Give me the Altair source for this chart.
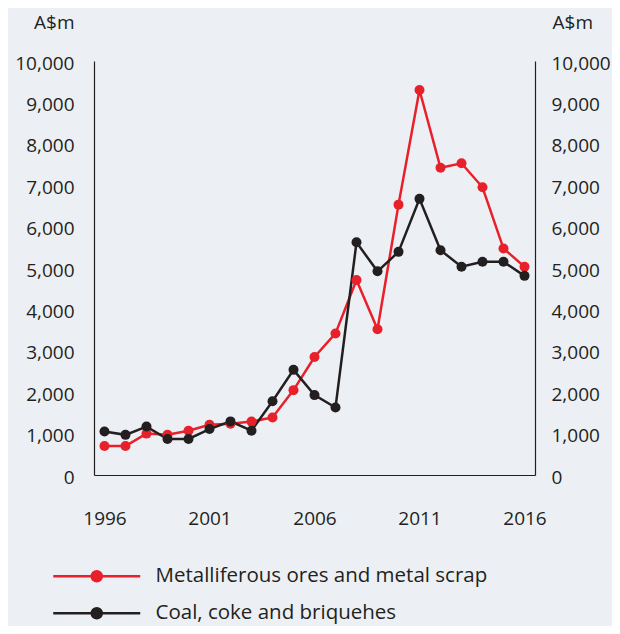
import altair as alt
import pandas as pd

years = list(range(1996, 2017))
metal = [700, 700, 1000, 970, 1070, 1215, 1240, 1290, 1390, 2050, 2850,
         3420, 4710, 3520, 6530, 9300, 7420, 7530, 6950, 5470, 5030]
coal = [1050, 970, 1170, 870, 870, 1110, 1295, 1070, 1780, 2540, 1930,
        1630, 5620, 4920, 5390, 6670, 5430, 5030, 5150, 5150, 4810]
series_names = ["Metalliferous ores and metal scrap", "Coal, coke and briquehes"]
series_colors = ["#E8202A", "#231F20"]
x_ticks = [1996, 2001, 2006, 2011, 2016]
y_ticks = list(range(0, 10001, 1000))

rows = []
for name, vals in zip(series_names, [metal, coal]):
    for y, v in zip(years, vals):
        rows.append({"year": y, "value": v, "series": name})
df = pd.DataFrame(rows)

FONT = "Open Sans"
TXT = "#231F20"
BG = "#ECF0F4"

legend_sym = ("M -8.7 0 L 8.7 0 "
              "M 1 0 A 1 1 0 1 1 -1 0 A 1 1 0 1 1 1 0 "
              "M 0.66 0 A 0.66 0.66 0 1 1 -0.66 0 A 0.66 0.66 0 1 1 0.66 0 "
              "M 0.33 0 A 0.33 0.33 0 1 1 -0.33 0 A 0.33 0.33 0 1 1 0.33 0")

x_enc = alt.X("year:Q",
              scale=alt.Scale(domain=[1995.5, 2016.5], nice=False, zero=False),
              axis=alt.Axis(values=x_ticks, format="d", title=None, ticks=False,
                            grid=False, labelPadding=34, labelFontSize=19,
                            labelColor=TXT, labelFont=FONT, domainColor=TXT,
                            domainWidth=1.2))
color_enc = alt.Color("series:N",
                      scale=alt.Scale(domain=series_names, range=series_colors),
                      sort=series_names,
                      legend=alt.Legend(title=None, orient="none", legendX=-7.5,
                                        legendY=505, direction="vertical",
                                        symbolType=legend_sym, symbolSize=100,
                                        symbolStrokeWidth=2.5, labelFontSize=20.5,
                                        labelFont=FONT, labelColor=TXT,
                                        labelOffset=48.5, rowPadding=16,
                                        labelLimit=0))

y_scale = alt.Scale(domain=[0, 10000], nice=False)

lines = alt.Chart(df).mark_line(strokeWidth=2.5).encode(
    x=x_enc,
    y=alt.Y("value:Q", scale=y_scale,
            axis=alt.Axis(orient="left", values=y_ticks, format=",.0f", ticks=False,
                          grid=False, labelPadding=20, labelOffset=2,
                          labelFontSize=19,
                          labelColor=TXT, labelFont=FONT, domainColor=TXT,
                          domainWidth=1.2, title="A$m", titleAngle=0,
                          titleAlign="right", titleBaseline="alphabetic",
                          titleX=-20, titleY=-33, titleFontSize=19,
                          titleFontWeight="normal", titleFont=FONT,
                          titleColor=TXT)),
    color=color_enc,
    order=alt.Order("year:Q"),
)

points = alt.Chart(df).mark_point(filled=True, size=100, opacity=1).encode(
    x=x_enc,
    y=alt.Y("value:Q", scale=y_scale,
            axis=alt.Axis(orient="right", values=y_ticks, format=",.0f", ticks=False,
                          grid=False, labelPadding=16, labelOffset=2,
                          labelFontSize=19,
                          labelColor=TXT, labelFont=FONT, domainColor=TXT,
                          domainWidth=1.2, title="A$m", titleAngle=0,
                          titleAlign="left", titleBaseline="alphabetic",
                          titleX=17, titleY=-33, titleFontSize=19,
                          titleFontWeight="normal", titleFont=FONT,
                          titleColor=TXT)),
    color=color_enc,
)

chart = alt.layer(lines, points).resolve_scale(y="shared").resolve_axis(
    y="independent"
).properties(
    width=441, height=414,
    autosize=alt.AutoSizeParams(type="none"),
    padding={"left": 86, "top": 53, "right": 77, "bottom": 151},
    background=BG,
).configure_view(stroke=None)

chart.save("out.html", embed_options={"renderer": "svg", "actions": False})
